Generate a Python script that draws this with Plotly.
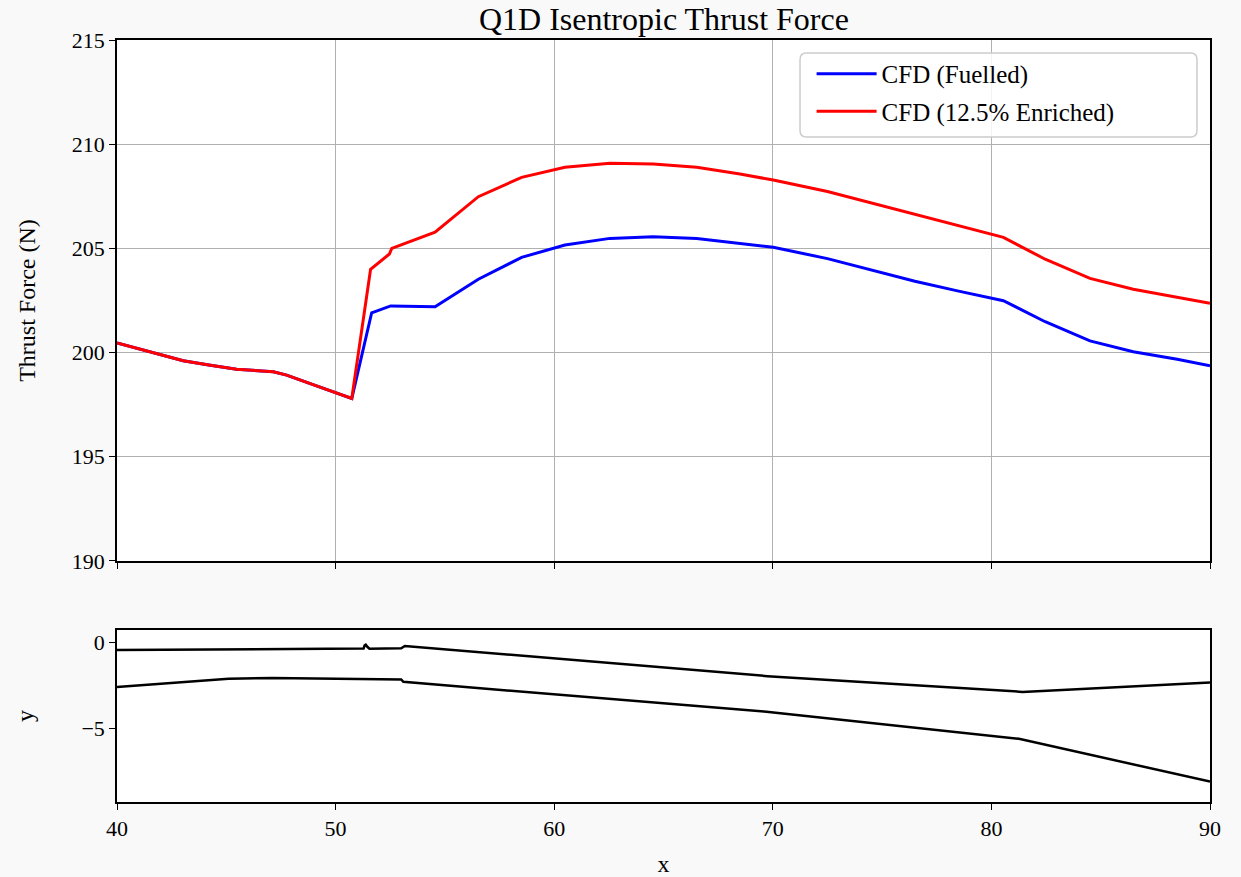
import plotly.graph_objects as go
from plotly.subplots import make_subplots

# Thrust force data
x_fuelled = [40.0, 41.2, 42.4, 43.03, 44.2, 45.47, 47.15, 47.76, 49.0, 50.74,
             51.65, 52.52, 54.55, 56.53, 58.51, 60.49, 62.55, 64.53, 66.52, 68.5,
             70.02, 72.5, 74.5, 76.5, 78.5, 80.55, 82.46, 84.51, 86.49, 88.5, 90.0]
y_fuelled = [200.46, 200.12, 199.78, 199.61, 199.4, 199.2, 199.08, 198.92, 198.45, 197.8,
             201.91, 202.24, 202.2, 203.52, 204.57, 205.16, 205.48, 205.56, 205.48, 205.24,
             205.05, 204.51, 203.96, 203.42, 202.95, 202.49, 201.48, 200.56, 200.04, 199.68, 199.37]

x_enriched = [40.0, 41.2, 42.4, 43.03, 44.2, 45.47, 47.15, 47.76, 49.0, 50.74,
              51.6, 52.46, 52.57, 54.55, 56.53, 58.51, 60.49, 62.55, 64.53, 66.52, 68.5,
              70.02, 72.5, 74.5, 76.5, 78.5, 80.55, 82.46, 84.51, 86.49, 88.5, 90.0]
y_enriched = [200.46, 200.12, 199.78, 199.61, 199.4, 199.2, 199.08, 198.92, 198.45, 197.8,
              204.0, 204.73, 205.0, 205.78, 207.48, 208.41, 208.89, 209.08, 209.05, 208.89, 208.57,
              208.28, 207.73, 207.18, 206.62, 206.06, 205.53, 204.48, 203.56, 203.04, 202.67, 202.37]

# Geometry (upper and lower walls)
x_upper = [40.0, 45.0, 51.28, 51.33, 51.38, 51.45, 51.55, 53.0, 53.17, 69.76, 81.42, 90.0]
y_upper = [-0.45, -0.41, -0.36, -0.18, -0.14, -0.26, -0.37, -0.35, -0.21, -1.96, -2.87, -2.33]
x_lower = [40.0, 45.1, 47.1, 53.0, 53.1, 69.6, 81.26, 90.0]
y_lower = [-2.58, -2.11, -2.07, -2.15, -2.29, -4.01, -5.58, -8.06]

FONT = "Liberation Serif"

fig = make_subplots(rows=2, cols=1, row_heights=[0.75, 0.25], vertical_spacing=0.09,
                    shared_xaxes=False)

fig.add_trace(go.Scatter(x=x_fuelled, y=y_fuelled, mode="lines", name="CFD (Fuelled)",
                         legendgroup="a",
                         line=dict(color="#0000ff", width=3)), row=1, col=1)
fig.add_trace(go.Scatter(x=x_enriched, y=y_enriched, mode="lines", name="CFD (12.5% Enriched)",
                         legendgroup="b",
                         line=dict(color="#ff0000", width=3)), row=1, col=1)
fig.add_trace(go.Scatter(x=x_upper, y=y_upper, mode="lines", showlegend=False,
                         line=dict(color="black", width=2.5)), row=2, col=1)
fig.add_trace(go.Scatter(x=x_lower, y=y_lower, mode="lines", showlegend=False,
                         line=dict(color="black", width=2.5)), row=2, col=1)

axis_common = dict(showline=True, linecolor="black", linewidth=1.5, mirror=True,
                   ticks="outside", ticklen=6, tickwidth=1.3, tickcolor="black",
                   tickfont=dict(family=FONT, size=22, color="black"), zeroline=False,
                   automargin=False)

fig.update_xaxes(range=[40, 90], tickvals=[40, 50, 60, 70, 80, 90], showticklabels=False,
                 showgrid=True, gridcolor="#b0b0b0", gridwidth=1, **axis_common, row=1, col=1)
fig.update_yaxes(range=[190, 215], tickvals=[190, 195, 200, 205, 210, 215],
                 showgrid=True, gridcolor="#b0b0b0", gridwidth=1,
                 title=dict(text="Thrust Force (N)", font=dict(family=FONT, size=24, color="black"),
                            standoff=29),
                 **axis_common, row=1, col=1)
fig.update_xaxes(range=[40, 90], tickvals=[40, 50, 60, 70, 80, 90], showgrid=False,
                 title=dict(text="x", font=dict(family=FONT, size=24, color="black"), standoff=20),
                 **axis_common, row=2, col=1)
fig.update_yaxes(range=[-9.24, 0.71], tickvals=[0, -5], showgrid=False,
                 title=dict(text="y", font=dict(family=FONT, size=24, color="black"), standoff=41),
                 **axis_common, row=2, col=1)

# Legend frame (rounded box, matplotlib style)
x0, x1, y0, y1, r = 0.6249, 0.9881, 0.8727, 0.9829, 0.006
ry = r * 1093 / 762
frame_path = (f"M {x0 + r},{y0} L {x1 - r},{y0} Q {x1},{y0} {x1},{y0 + ry} "
              f"L {x1},{y1 - ry} Q {x1},{y1} {x1 - r},{y1} L {x0 + r},{y1} "
              f"Q {x0},{y1} {x0},{y1 - ry} L {x0},{y0 + ry} Q {x0},{y0} {x0 + r},{y0} Z")
fig.add_shape(type="path", path=frame_path, xref="paper", yref="paper",
              fillcolor="rgba(255,255,255,0.85)", line=dict(color="#cccccc", width=1.5),
              layer="above")

fig.update_layout(
    width=1241, height=877,
    margin=dict(l=117, r=31, t=40, b=75),
    paper_bgcolor="#f9f9f9", plot_bgcolor="white",
    title=dict(text="Q1D Isentropic Thrust Force", x=0.535, xanchor="center", y=0.979, yanchor="middle",
               font=dict(family=FONT, size=32, color="black"), automargin=False),
    font=dict(family=FONT, color="black"),
    legend=dict(x=0.6355, y=0.9856, xanchor="left", yanchor="top",
                bgcolor="rgba(0,0,0,0)", borderwidth=0,
                font=dict(family=FONT, size=25, color="black"),
                itemwidth=60, traceorder="grouped", tracegroupgap=2),
)
fig.update_xaxes(domain=[0, 1])
fig.layout.yaxis.domain = [0.3163, 1.0]
fig.layout.yaxis2.domain = [0.0, 0.2257]

fig.write_html("out.html")
